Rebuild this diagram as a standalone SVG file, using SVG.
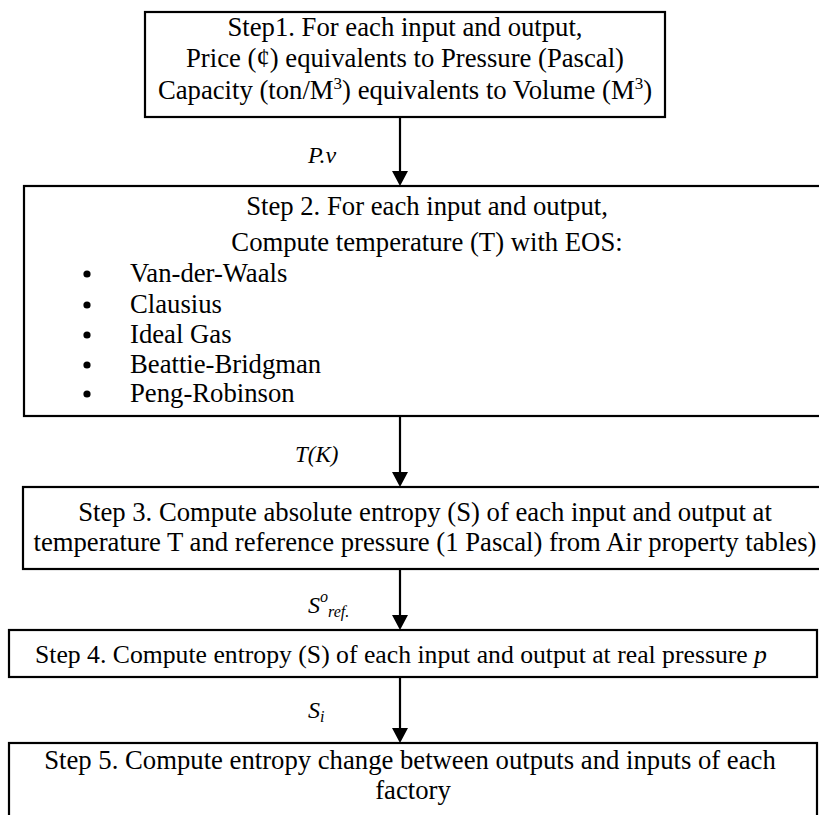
<svg xmlns="http://www.w3.org/2000/svg" width="819" height="815" viewBox="0 0 819 815">
<style>
.box{fill:#fff;stroke:#000;stroke-width:2.2}
.t{font-family:"Liberation Serif","Times New Roman",serif;font-size:26.7px;fill:#000}
.c{text-anchor:middle}
.i{font-style:italic}
.lbl{font-family:"Liberation Serif","Times New Roman",serif;font-size:24px;font-style:italic;fill:#000}
.conn line{stroke:#000;stroke-width:2.2}
.sup{font-size:17px}
</style>
<rect width="819" height="815" fill="#fff"/>
<g id="step1">
<rect class="box" x="145" y="12" width="520" height="105"/>
<text class="t c" x="405" y="36">Step1. For each input and output,</text>
<text class="t c" x="405" y="67">Price (¢) equivalents to Pressure (Pascal)</text>
<text class="t c" x="405" y="99">Capacity (ton/M<tspan class="sup" dy="-10">3</tspan><tspan dy="10">) equivalents to Volume (M</tspan><tspan class="sup" dy="-10">3</tspan><tspan dy="10">)</tspan></text>
</g>
<g id="step2">
<rect class="box" x="24" y="186" width="806" height="230"/>
<text class="t c" x="427" y="215">Step 2. For each input and output,</text>
<text class="t c" x="427" y="251">Compute temperature (T) with EOS:</text>
<g class="t">
<circle cx="87" cy="274" r="3.6"/><text x="130" y="282">Van-der-Waals</text>
<circle cx="87" cy="305" r="3.6"/><text x="130" y="313">Clausius</text>
<circle cx="87" cy="335" r="3.6"/><text x="130" y="343">Ideal Gas</text>
<circle cx="87" cy="365" r="3.6"/><text x="130" y="373">Beattie-Bridgman</text>
<circle cx="87" cy="394" r="3.6"/><text x="130" y="402">Peng-Robinson</text>
</g>
</g>
<g id="step3">
<rect class="box" x="23" y="487" width="806" height="82"/>
<text class="t c" x="425" y="521">Step 3. Compute absolute entropy (S) of each input and output at</text>
<text class="t c" x="425" y="551">temperature T and reference pressure (1 Pascal) from Air property tables)</text>
</g>
<g id="step4">
<rect class="box" x="9" y="630" width="808" height="47"/>
<text class="t c" x="401" y="663" style="font-size:25.7px">Step 4. Compute entropy (S) of each input and output at real pressure <tspan class="i">p</tspan></text>
</g>
<g id="step5">
<rect class="box" x="9" y="743" width="808" height="90"/>
<text class="t c" x="410" y="769">Step 5. Compute entropy change between outputs and inputs of each</text>
<text class="t c" x="413" y="799">factory</text>
</g>
<g class="conn" id="connectors">
<line x1="400" y1="117" x2="400" y2="172"/><polygon points="392,171 408,171 400,186"/>
<line x1="400" y1="416" x2="400" y2="473"/><polygon points="392,472 408,472 400,487"/>
<line x1="400" y1="569" x2="400" y2="616"/><polygon points="392,615 408,615 400,630"/>
<line x1="400" y1="677" x2="400" y2="729"/><polygon points="392,728 408,728 400,743"/>
<text class="lbl" x="308" y="163">P.v</text>
<text class="lbl" x="295" y="462" style="font-size:23px">T(K)</text>
<text class="lbl" x="308" y="613">S<tspan font-size="16" dy="-11">o</tspan><tspan font-size="16" dy="15">ref.</tspan></text>
<text class="lbl" x="308" y="718">S<tspan font-size="16" dy="4">i</tspan></text>
</g>
</svg>
